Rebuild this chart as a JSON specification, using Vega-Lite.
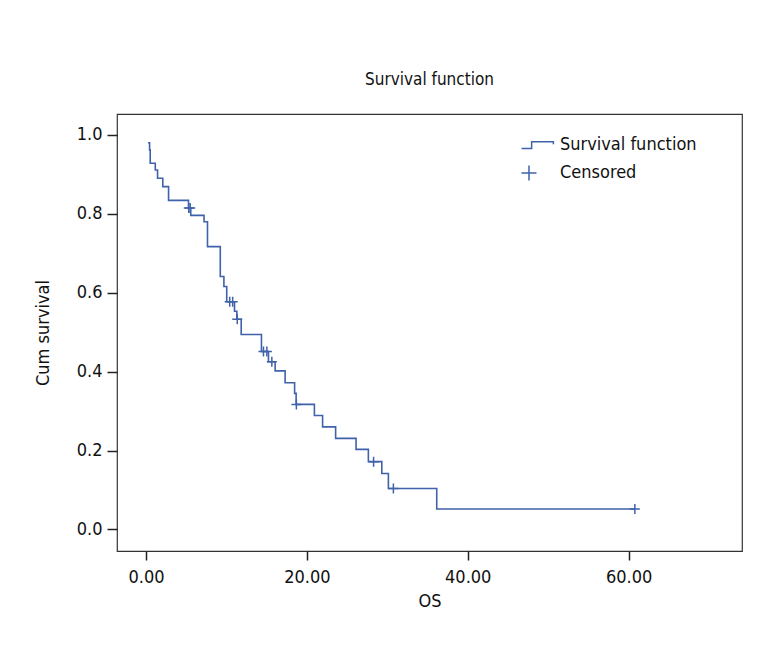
{
  "$schema": "https://vega.github.io/schema/vega-lite/v6.json",
  "width": 625,
  "height": 437,
  "autosize": "none",
  "padding": {"left": 117, "top": 114, "right": 26, "bottom": 97},
  "background": "white",
  "title": {"text": "Survival function", "font": "'DejaVu Sans Condensed', Roboto, sans-serif", "fontSize": 17, "fontWeight": "normal", "color": "#111111", "offset": 25, "anchor": "middle"},
  "datasets": {
    "km": [
      {"t": 0.25, "s": 0.980}, {"t": 0.45, "s": 0.962}, {"t": 0.53, "s": 0.928}, {"t": 1.16, "s": 0.911},
      {"t": 1.44, "s": 0.890}, {"t": 2.09, "s": 0.869}, {"t": 2.81, "s": 0.834}, {"t": 5.29, "s": 0.815},
      {"t": 5.57, "s": 0.796}, {"t": 7.22, "s": 0.780}, {"t": 7.65, "s": 0.717}, {"t": 9.24, "s": 0.641},
      {"t": 9.69, "s": 0.616}, {"t": 10.04, "s": 0.577}, {"t": 11.01, "s": 0.553}, {"t": 11.30, "s": 0.533},
      {"t": 11.84, "s": 0.494}, {"t": 14.36, "s": 0.451}, {"t": 15.23, "s": 0.425}, {"t": 16.06, "s": 0.402},
      {"t": 17.30, "s": 0.372}, {"t": 18.48, "s": 0.345}, {"t": 18.67, "s": 0.317}, {"t": 20.94, "s": 0.289},
      {"t": 21.96, "s": 0.260}, {"t": 23.58, "s": 0.231}, {"t": 26.12, "s": 0.203}, {"t": 27.65, "s": 0.172},
      {"t": 29.32, "s": 0.142}, {"t": 30.14, "s": 0.104}, {"t": 36.15, "s": 0.052}, {"t": 60.78, "s": 0.052}
    ],
    "censored": [
      {"t": 5.32, "s": 0.815, "series": "Censored"}, {"t": 5.50, "s": 0.815, "series": "Censored"},
      {"t": 10.41, "s": 0.577, "series": "Censored"}, {"t": 10.78, "s": 0.577, "series": "Censored"},
      {"t": 11.35, "s": 0.533, "series": "Censored"}, {"t": 14.61, "s": 0.451, "series": "Censored"},
      {"t": 15.03, "s": 0.451, "series": "Censored"}, {"t": 15.65, "s": 0.425, "series": "Censored"},
      {"t": 18.70, "s": 0.317, "series": "Censored"}, {"t": 28.30, "s": 0.172, "series": "Censored"},
      {"t": 30.76, "s": 0.104, "series": "Censored"}, {"t": 60.78, "s": 0.052, "series": "Censored"}
    ]
  },
  "encoding": {
    "x": {
      "field": "t", "type": "quantitative",
      "scale": {"domain": [-3.6, 74.1], "nice": false, "zero": false},
      "axis": {"title": "OS", "values": [0, 20, 40, 60], "format": ".2f", "grid": false, "domain": false,
               "tickSize": 9, "tickWidth": 1.5, "tickColor": "#222222", "labelPadding": 8, "titlePadding": 6,
               "labelFont": "'DejaVu Sans Condensed', Roboto, sans-serif", "labelFontSize": 18, "labelColor": "#111111",
               "titleFont": "'DejaVu Sans Condensed', Roboto, sans-serif", "titleFontSize": 18, "titleFontWeight": "normal", "titleColor": "#111111"}
    },
    "y": {
      "field": "s", "type": "quantitative",
      "scale": {"domain": [-0.0545, 1.053], "nice": false, "zero": false},
      "axis": {"title": "Cum survival", "values": [0, 0.2, 0.4, 0.6, 0.8, 1.0], "format": ".1f", "grid": false, "domain": false,
               "tickSize": 10, "tickWidth": 1.5, "tickColor": "#222222", "labelPadding": 5, "titlePadding": 24,
               "labelFont": "'DejaVu Sans Condensed', Roboto, sans-serif", "labelFontSize": 18, "labelColor": "#111111",
               "titleFont": "'DejaVu Sans Condensed', Roboto, sans-serif", "titleFontSize": 18, "titleFontWeight": "normal", "titleColor": "#111111"}
    }
  },
  "layer": [
    {
      "data": {"name": "km"},
      "mark": {"type": "line", "interpolate": "step-after", "color": "#3F62AA", "strokeWidth": 1.6}
    },
    {
      "data": {"name": "censored"},
      "mark": {"type": "point", "filled": false, "stroke": "#3F62AA", "strokeWidth": 1.5, "size": 100, "opacity": 1},
      "encoding": {
        "shape": {
          "field": "series", "type": "nominal",
          "scale": {"domain": ["Survival function", "Censored"], "range": ["M-1,0.45H0.35V-0.45H3.25V-0.1", "M-1,0H1M0,-1V1"]},
          "legend": {"title": null, "orient": "none", "legendX": 403, "legendY": 22, "padding": 0,
                     "symbolSize": 225, "symbolStrokeWidth": 1.5, "symbolStrokeColor": "#3F62AA", "symbolFillColor": "transparent",
                     "labelFont": "'DejaVu Sans Condensed', Roboto, sans-serif", "labelFontSize": 18, "labelColor": "#111111",
                     "labelOffset": 22, "rowPadding": 8}
        }
      }
    }
  ],
  "config": {
    "view": {"stroke": "#333333", "strokeWidth": 1.2}
  }
}
